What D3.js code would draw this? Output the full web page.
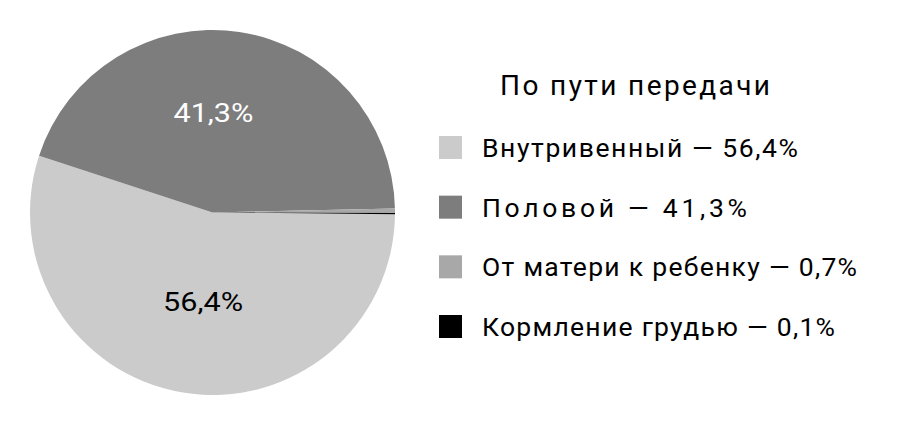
<!DOCTYPE html>
<html>
<head>
<meta charset="utf-8">
<script src="https://cdn.jsdelivr.net/npm/d3@7"></script>
<style>
  html, body { margin: 0; padding: 0; background: #fff; }
  svg { display: block; font-family: Roboto, "Noto Sans", sans-serif; }
</style>
</head>
<body>
<svg id="chart" width="901" height="426"></svg>
<script>
// Data
const legendTitle = "По пути передачи";
const categories = ["Внутривенный", "Половой", "От матери к ребенку", "Кормление грудью"];
const labelPercents = ["56,4%", "41,3%", "0,7%", "0,1%"];
// slice shares as drawn in the picture (angles)
const sliceShares = [54.9, 44.6, 0.4, 0.1];
const colors = ["#cbcbcb", "#7d7d7d", "#a8a8a8", "#000000"];
const pieLabelColors = ["#000000", "#ffffff", null, null];

// layout / style
const cx = 212.5, cy = 212.5, R = 182.5;
const labelNudge = [[6, -9], [-13, 0], [0, 0], [0, 0]];

const svg = d3.select("#chart");

const pie = d3.pie().sort(null).value(d => d)
  .startAngle(Math.PI / 2 + 0.009)
  .endAngle(Math.PI / 2 + 0.009 + 2 * Math.PI);
const arcs = pie(sliceShares);
const arc = d3.arc().innerRadius(0).outerRadius(R);
const labelArc = d3.arc().innerRadius(0).outerRadius(200);

const g = svg.append("g").attr("transform", `translate(${cx},${cy})`);
g.selectAll("path.slice").data(arcs).enter().append("path")
  .attr("class", "slice")
  .attr("d", arc)
  .attr("fill", (d, i) => colors[i]);

// slice labels for the two big slices
g.selectAll("text.plabel").data(arcs.filter((d, i) => pieLabelColors[i]))
  .enter().append("text")
  .attr("class", "plabel")
  .attr("transform", d => {
    const c = labelArc.centroid(d);
    const n = labelNudge[d.index];
    return `translate(${c[0] * 0.95 + n[0]},${c[1] + n[1]})`;
  })
  .attr("text-anchor", "middle")
  .attr("dy", "0.35em")
  .attr("font-size", 25)
  .attr("fill", d => pieLabelColors[d.index])
  .attr("textLength", 80)
  .attr("lengthAdjust", "spacingAndGlyphs")
  .text(d => labelPercents[d.index]);

// Legend
svg.append("text")
  .attr("x", 500).attr("y", 95)
  .attr("font-size", 28)
  .attr("fill", "#000")
  .attr("textLength", 270)
  .attr("lengthAdjust", "spacing")
  .text(legendTitle);

const legendY = d3.scalePoint().domain(categories).range([136, 315]);
const itemWidths = [316, 265, 375, 353];
const lg = svg.append("g");
const items = lg.selectAll("g.item").data(categories).enter().append("g")
  .attr("class", "item")
  .attr("transform", d => `translate(0,${legendY(d)})`);
items.append("rect")
  .attr("x", 439).attr("y", 0)
  .attr("width", 23).attr("height", 23)
  .attr("fill", (d, i) => colors[i]);
items.append("text")
  .attr("x", 482).attr("y", 21)
  .attr("font-size", 26.5)
  .attr("fill", "#000")
  .attr("textLength", (d, i) => itemWidths[i])
  .attr("lengthAdjust", "spacing")
  .text((d, i) => `${d} — ${labelPercents[i]}`);
</script>
</body>
</html>
